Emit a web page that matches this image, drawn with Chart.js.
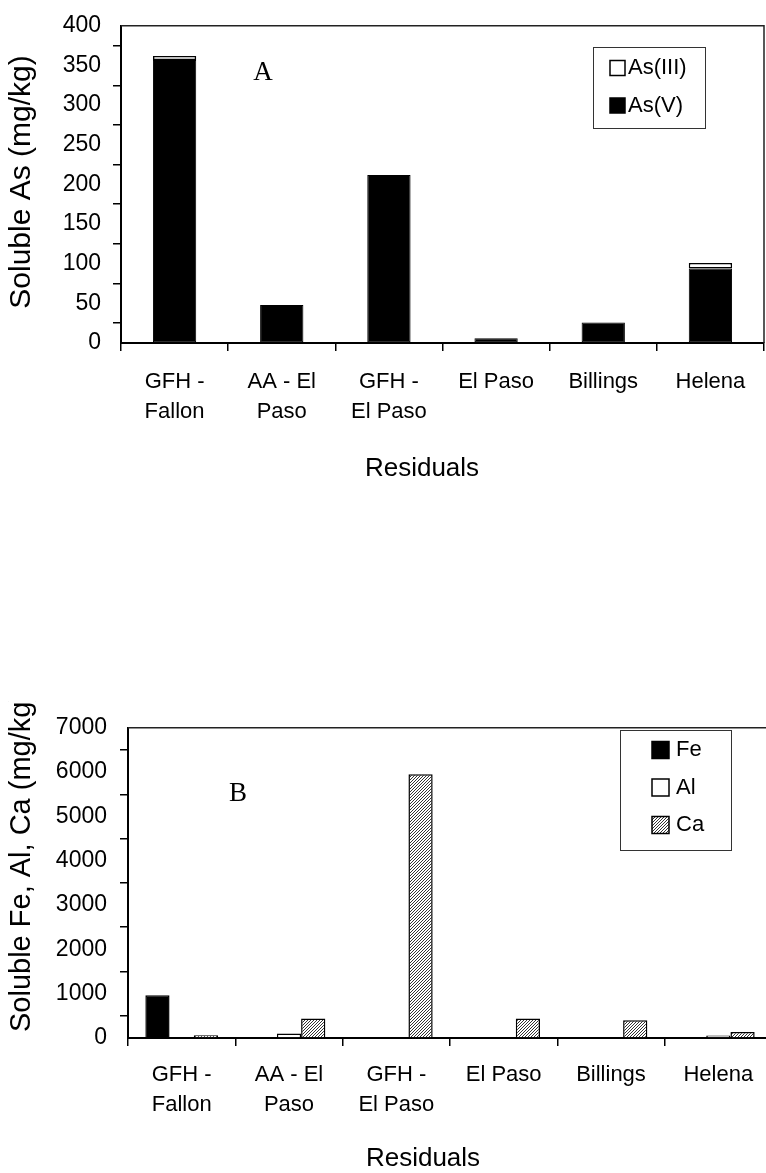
<!DOCTYPE html>
<html>
<head>
<meta charset="utf-8">
<title>Soluble As and soluble Fe, Al, Ca in residuals</title>
<script src="https://cdn.jsdelivr.net/npm/chart.js@4.4.1/dist/chart.umd.min.js"></script>
<style>
  html, body { margin: 0; padding: 0; background: #fff; overflow: hidden; }
  #page { position: relative; width: 766px; height: 1173px; overflow: hidden; background: #fff; }
  #chartA { position: absolute; left: 0; top: 0; }
  #chartB { position: absolute; left: 0; top: 701px; }
</style>
</head>
<body>
<div id="page">
  <canvas id="chartA" width="766" height="520"></canvas>
  <canvas id="chartB" width="790" height="472"></canvas>
</div>
<script>
// Residual samples (x categories, shared by both panels)
const residuals = [['GFH -', 'Fallon'], ['AA - El', 'Paso'], ['GFH -', 'El Paso'], 'El Paso', 'Billings', 'Helena'];

// Panel A: soluble arsenic species, mg/kg
const asV   = [357, 48, 212, 6, 26, 94];
const asIII = [5, 0, 0, 0, 0, 7];
const asTicks = [0, 50, 100, 150, 200, 250, 300, 350, 400];

// Panel B: soluble Fe, Al, Ca, mg/kg
const fe = [965, 0, 0, 0, 0, 0];
const al = [0, 100, 0, 0, 0, 55];
const ca = [60, 440, 5950, 440, 400, 135];
const metalTicks = [0, 1000, 2000, 3000, 4000, 5000, 6000, 7000];

const SANS = '"Liberation Sans", Arial, Helvetica, sans-serif';
const SERIF = '"Liberation Serif", "Times New Roman", serif';
Chart.defaults.font.family = SANS;
Chart.defaults.color = '#000';

// Fine diagonal hatch used for the Ca bars
function hatchPattern(ctx) {
  const tile = document.createElement('canvas');
  tile.width = 3; tile.height = 3;
  const g = tile.getContext('2d');
  g.fillStyle = '#fff';
  g.fillRect(0, 0, 3, 3);
  g.fillStyle = '#333';
  for (let i = 0; i < 3; i++) g.fillRect(i, 2 - i, 1, 1);
  return ctx.createPattern(tile, 'repeat');
}

// Thin frame along the top and right of the plot area
const plotFrame = {
  id: 'plotFrame',
  afterDraw(chart) {
    const { ctx, chartArea: a } = chart;
    ctx.save();
    ctx.strokeStyle = '#222';
    ctx.lineWidth = 1.5;
    ctx.beginPath();
    ctx.moveTo(a.left, a.top);
    ctx.lineTo(a.right, a.top);
    ctx.lineTo(a.right, a.bottom);
    ctx.stroke();
    ctx.restore();
  }
};

// Boxed legend placed inside the plot area
const boxLegend = {
  id: 'boxLegend',
  afterDraw(chart, args, o) {
    if (!o || !o.order) return;
    const ctx = chart.ctx;
    ctx.save();
    ctx.fillStyle = '#fff';
    ctx.fillRect(o.x, o.y, o.w, o.h);
    ctx.strokeStyle = '#333';
    ctx.lineWidth = 1;
    ctx.strokeRect(o.x + 0.5, o.y + 0.5, o.w, o.h);
    ctx.font = o.font;
    ctx.textBaseline = 'middle';
    ctx.textAlign = 'left';
    o.order.forEach((di, i) => {
      const ds = chart.data.datasets[di];
      const cy = o.firstY + i * o.gap;
      ctx.fillStyle = ds.backgroundColor;
      ctx.fillRect(o.sx, cy - o.size / 2, o.size, o.size);
      ctx.strokeStyle = '#000';
      ctx.lineWidth = 1.5;
      ctx.strokeRect(o.sx, cy - o.size / 2, o.size, o.size);
      ctx.fillStyle = '#000';
      ctx.fillText(ds.label, o.tx, cy);
    });
    ctx.restore();
  }
};

// Axis captions and panel letters
const captions = {
  id: 'captions',
  afterDraw(chart, args, o) {
    if (!o || !o.items) return;
    const ctx = chart.ctx;
    o.items.forEach(it => {
      ctx.save();
      ctx.translate(it.x, it.y);
      if (it.rotate) ctx.rotate(it.rotate);
      ctx.font = it.font;
      ctx.fillStyle = '#000';
      ctx.textAlign = it.align || 'center';
      ctx.textBaseline = it.baseline || 'alphabetic';
      ctx.fillText(it.text, 0, 0);
      ctx.restore();
    });
  }
};

function axisStyle() {
  return {
    grid: { display: true, offset: true, drawOnChartArea: false, drawTicks: true,
            tickLength: 8, color: '#000', lineWidth: 1.5 },
    border: { display: true, color: '#000', width: 2 }
  };
}

const plainNumber = v => String(v);

// ---------- Panel A ----------
new Chart(document.getElementById('chartA'), {
  type: 'bar',
  data: {
    labels: residuals,
    datasets: [
      { label: 'As(V)', data: asV, backgroundColor: '#000', borderColor: '#000',
        borderWidth: 1, borderSkipped: false },
      { label: 'As(III)', data: asIII, backgroundColor: '#fff', borderColor: '#000',
        borderWidth: 1.5, borderSkipped: false }
    ]
  },
  options: {
    responsive: false,
    devicePixelRatio: 1,
    animation: false,
    events: [],
    categoryPercentage: 0.404,
    barPercentage: 1,
    layout: { padding: { top: 25, right: 2, left: 0, bottom: 0 } },
    plugins: {
      legend: { display: false },
      tooltip: { enabled: false },
      boxLegend: { order: [1, 0], x: 593, y: 47, w: 112, h: 81, sx: 610, size: 15,
                   tx: 628, firstY: 68, gap: 37.5, font: '22px ' + SANS },
      captions: { items: [
        { text: 'Soluble As (mg/kg)', x: 22, y: 182, rotate: -Math.PI / 2,
          baseline: 'middle', font: '30px ' + SANS },
        { text: 'Residuals', x: 422, y: 476, font: '26px ' + SANS },
        { text: 'A', x: 263, y: 80, font: '27px ' + SERIF }
      ] }
    },
    scales: {
      x: Object.assign(axisStyle(), {
        stacked: true,
        ticks: { color: '#000', font: { size: 22, lineHeight: 1.364 }, padding: 16,
                 maxRotation: 0, minRotation: 0, autoSkip: false },
        afterFit(s) { s.height = 177; }
      }),
      y: Object.assign(axisStyle(), {
        stacked: true,
        min: 0,
        max: 400,
        ticks: { color: '#000', font: { size: 23 }, padding: 12, callback: plainNumber },
        afterBuildTicks(s) { s.ticks = asTicks.map(v => ({ value: v })); },
        afterFit(s) { s.width = 121; }
      })
    }
  },
  plugins: [plotFrame, boxLegend, captions]
});

// ---------- Panel B ----------
const canvasB = document.getElementById('chartB');
const caHatch = hatchPattern(canvasB.getContext('2d'));

new Chart(canvasB, {
  type: 'bar',
  data: {
    labels: residuals,
    datasets: [
      { label: 'Fe', data: fe, backgroundColor: '#000', borderColor: '#000',
        borderWidth: 1.5, borderSkipped: 'start' },
      { label: 'Al', data: al, backgroundColor: '#fff', borderColor: '#000',
        borderWidth: 1.5, borderSkipped: 'start' },
      { label: 'Ca', data: ca, backgroundColor: caHatch, borderColor: '#000',
        borderWidth: 1.5, borderSkipped: 'start' }
    ]
  },
  options: {
    responsive: false,
    devicePixelRatio: 1,
    animation: false,
    events: [],
    categoryPercentage: 0.677,
    barPercentage: 1,
    layout: { padding: { top: 17, right: 18, left: 0, bottom: 0 } },
    plugins: {
      legend: { display: false },
      tooltip: { enabled: false },
      boxLegend: { order: [0, 1, 2], x: 620, y: 29, w: 111, h: 120, sx: 652, size: 17,
                   tx: 676, firstY: 49, gap: 37.5, font: '22px ' + SANS },
      captions: { items: [
        { text: 'Soluble Fe, Al, Ca (mg/kg)', x: 22, y: 331, rotate: -Math.PI / 2,
          align: 'left', baseline: 'middle', font: '29px ' + SANS },
        { text: 'Residuals', x: 423, y: 465, font: '26px ' + SANS },
        { text: 'B', x: 238, y: 100, font: '27px ' + SERIF }
      ] }
    },
    scales: {
      x: Object.assign(axisStyle(), {
        ticks: { color: '#000', font: { size: 22, lineHeight: 1.364 }, padding: 14,
                 maxRotation: 0, minRotation: 0, autoSkip: false },
        afterFit(s) { s.height = 135; }
      }),
      y: Object.assign(axisStyle(), {
        min: 0,
        max: 7000,
        ticks: { color: '#000', font: { size: 23 }, padding: 13, callback: plainNumber },
        afterBuildTicks(s) { s.ticks = metalTicks.map(v => ({ value: v })); },
        afterFit(s) { s.width = 128; }
      })
    }
  },
  plugins: [plotFrame, boxLegend, captions]
});
</script>
</body>
</html>
